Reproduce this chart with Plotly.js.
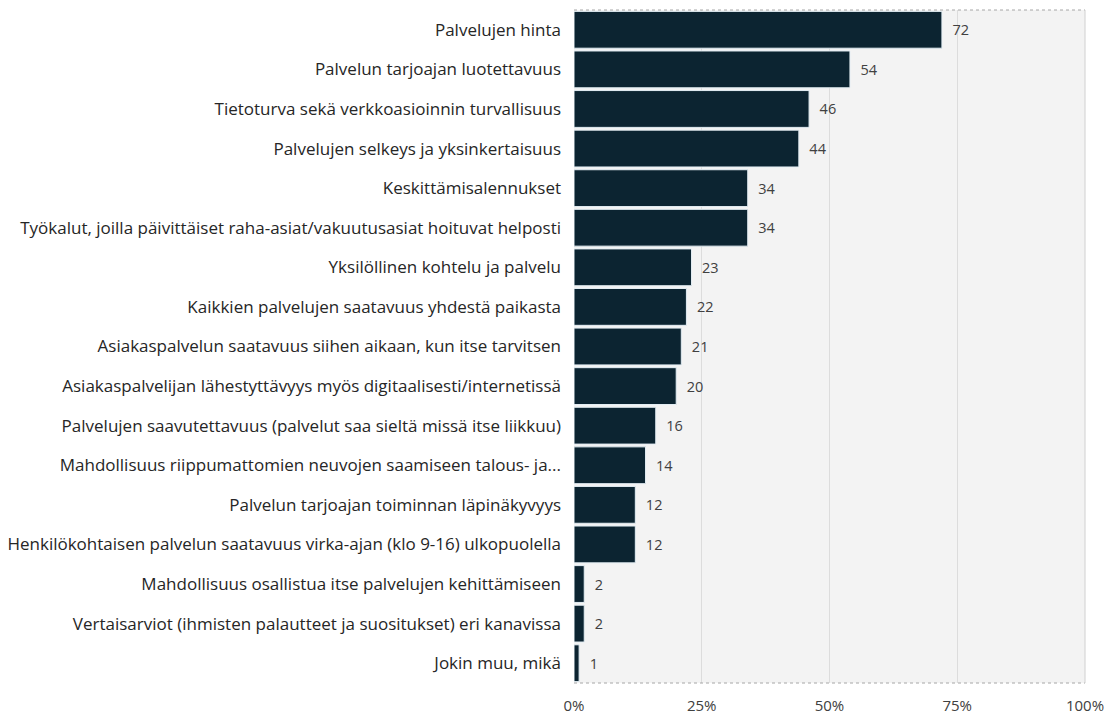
<!DOCTYPE html>
<html><head><meta charset="utf-8">
<script src="https://cdn.plot.ly/plotly-3.0.1.min.js"></script>
<style>html,body{margin:0;padding:0;background:#fff;}#chart{width:1118px;height:717px;}</style>
</head><body><div id="chart"></div>
<script>
const categories = [
  "Palvelujen hinta",
  "Palvelun tarjoajan luotettavuus",
  "Tietoturva sekä verkkoasioinnin turvallisuus",
  "Palvelujen selkeys ja yksinkertaisuus",
  "Keskittämisalennukset",
  "Työkalut, joilla päivittäiset raha-asiat/vakuutusasiat hoituvat helposti",
  "Yksilöllinen kohtelu ja palvelu",
  "Kaikkien palvelujen saatavuus yhdestä paikasta",
  "Asiakaspalvelun saatavuus siihen aikaan, kun itse tarvitsen",
  "Asiakaspalvelijan lähestyttävyys myös digitaalisesti/internetissä",
  "Palvelujen saavutettavuus (palvelut saa sieltä missä itse liikkuu)",
  "Mahdollisuus riippumattomien neuvojen saamiseen talous- ja...",
  "Palvelun tarjoajan toiminnan läpinäkyvyys",
  "Henkilökohtaisen palvelun saatavuus virka-ajan (klo 9-16) ulkopuolella",
  "Mahdollisuus osallistua itse palvelujen kehittämiseen",
  "Vertaisarviot (ihmisten palautteet ja suositukset) eri kanavissa",
  "Jokin muu, mikä"
];
const values = [72, 54, 46, 44, 34, 34, 23, 22, 21, 20, 16, 14, 12, 12, 2, 2, 1];
const tickValues = [0, 25, 50, 75, 100];
const tickLabels = ["0%", "25%", "50%", "75%", "100%"];

const font = "Open Sans, sans-serif";
Plotly.newPlot('chart', [{
  type: 'bar',
  orientation: 'h',
  x: values,
  y: categories,
  marker: {color: '#0c2431', line: {color: '#e3edf3', width: 1}},
  text: values.map(v => '  ' + v),
  textposition: 'outside',
  cliponaxis: false,
  textfont: {family: font, size: 14.5, color: '#404040'},
  hoverinfo: 'none'
}], {
  width: 1118, height: 717,
  margin: {l: 574, r: 33, t: 10, b: 34, pad: 0},
  paper_bgcolor: '#ffffff',
  plot_bgcolor: '#f3f3f3',
  bargap: 0.07,
  showlegend: false,
  font: {family: font, color: '#333333'},
  xaxis: {
    range: [0, 100],
    tickvals: tickValues,
    ticktext: tickLabels,
    tickfont: {family: font, size: 15, color: '#404040'},
    showgrid: true, gridcolor: '#dcdcdc', gridwidth: 1,
    zeroline: false, showline: false, ticks: '', fixedrange: true,
    ticklabelstandoff: 12
  },
  yaxis: {
    autorange: 'reversed',
    tickfont: {family: font, size: 17, color: '#262626'},
    showgrid: false, zeroline: false, showline: false, ticks: '',
    ticklabelstandoff: 12, fixedrange: true
  },
  shapes: [
    {type: 'line', xref: 'paper', yref: 'paper', x0: 0, x1: 1, y0: 1, y1: 1, line: {color: '#a6a6a6', width: 1, dash: 'dot'}},
    {type: 'line', xref: 'paper', yref: 'paper', x0: 0, x1: 1, y0: 0, y1: 0, line: {color: '#a6a6a6', width: 1, dash: 'dot'}},
    {type: 'line', xref: 'paper', yref: 'paper', x0: 1, x1: 1, y0: 0, y1: 1, line: {color: '#d0d0d0', width: 1}}
  ]
}, {displayModeBar: false, staticPlot: true});
</script></body></html>
